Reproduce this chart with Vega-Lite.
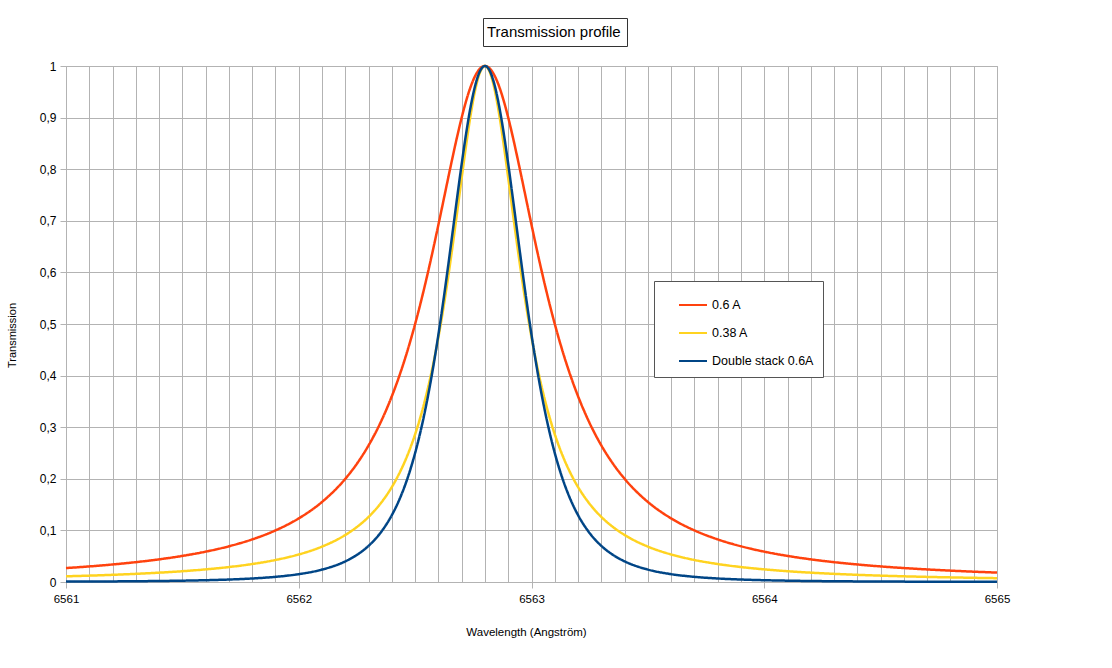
{
  "$schema": "https://vega.github.io/schema/vega-lite/v6.json",
  "autosize": "none",
  "width": 931,
  "height": 516,
  "padding": {"left": 66, "top": 66, "right": 115, "bottom": 86},
  "background": "white",
  "config": {
    "font": "Liberation Sans",
    "view": {"stroke": "#b3b3b3", "strokeWidth": 1}
  },
  "data": {
    "values": [
      {"w": 6561.0, "s1": 0.02703, "s2": 0.01102, "s3": 0.00073},
      {"w": 6561.1, "s1": 0.03020, "s2": 0.01234, "s3": 0.00091},
      {"w": 6561.2, "s1": 0.03396, "s2": 0.01391, "s3": 0.00115},
      {"w": 6561.3, "s1": 0.03846, "s2": 0.01579, "s3": 0.00148},
      {"w": 6561.4, "s1": 0.04390, "s2": 0.01809, "s3": 0.00193},
      {"w": 6561.5, "s1": 0.05056, "s2": 0.02091, "s3": 0.00256},
      {"w": 6561.6, "s1": 0.05882, "s2": 0.02446, "s3": 0.00346},
      {"w": 6561.7, "s1": 0.06923, "s2": 0.02897, "s3": 0.00479},
      {"w": 6561.8, "s1": 0.08257, "s2": 0.03484, "s3": 0.00682},
      {"w": 6561.9, "s1": 0.10000, "s2": 0.04267, "s3": 0.01000},
      {"w": 6562.0, "s1": 0.12329, "s2": 0.05339, "s3": 0.01520},
      {"w": 6562.1, "s1": 0.15517, "s2": 0.06862, "s3": 0.02408},
      {"w": 6562.2, "s1": 0.20000, "s2": 0.09114, "s3": 0.04000},
      {"w": 6562.25, "s1": 0.22930, "s2": 0.10662, "s3": 0.05258},
      {"w": 6562.3, "s1": 0.26471, "s2": 0.12618, "s3": 0.07007},
      {"w": 6562.35, "s1": 0.30769, "s2": 0.15130, "s3": 0.09467},
      {"w": 6562.4, "s1": 0.36000, "s2": 0.18409, "s3": 0.12960},
      {"w": 6562.42, "s1": 0.38396, "s2": 0.20000, "s3": 0.14742},
      {"w": 6562.44, "s1": 0.40984, "s2": 0.21786, "s3": 0.16797},
      {"w": 6562.46, "s1": 0.43774, "s2": 0.23797, "s3": 0.19162},
      {"w": 6562.48, "s1": 0.46778, "s2": 0.26065, "s3": 0.21882},
      {"w": 6562.5, "s1": 0.50000, "s2": 0.28628, "s3": 0.25000},
      {"w": 6562.52, "s1": 0.53444, "s2": 0.31528, "s3": 0.28563},
      {"w": 6562.54, "s1": 0.57107, "s2": 0.34812, "s3": 0.32612},
      {"w": 6562.56, "s1": 0.60976, "s2": 0.38527, "s3": 0.37180},
      {"w": 6562.58, "s1": 0.65029, "s2": 0.42722, "s3": 0.42288},
      {"w": 6562.6, "s1": 0.69231, "s2": 0.47438, "s3": 0.47929},
      {"w": 6562.62, "s1": 0.73529, "s2": 0.52701, "s3": 0.54066},
      {"w": 6562.64, "s1": 0.77855, "s2": 0.58509, "s3": 0.60614},
      {"w": 6562.66, "s1": 0.82117, "s2": 0.64811, "s3": 0.67432},
      {"w": 6562.68, "s1": 0.86207, "s2": 0.71485, "s3": 0.74316},
      {"w": 6562.7, "s1": 0.90000, "s2": 0.78308, "s3": 0.81000},
      {"w": 6562.72, "s1": 0.93361, "s2": 0.84941, "s3": 0.87163},
      {"w": 6562.74, "s1": 0.96154, "s2": 0.90932, "s3": 0.92456},
      {"w": 6562.76, "s1": 0.98253, "s2": 0.95756, "s3": 0.96537},
      {"w": 6562.78, "s1": 0.99558, "s2": 0.98904, "s3": 0.99118},
      {"w": 6562.8, "s1": 1.0, "s2": 1.0, "s3": 1.0},
      {"w": 6562.82, "s1": 0.99558, "s2": 0.98904, "s3": 0.99118},
      {"w": 6562.84, "s1": 0.98253, "s2": 0.95756, "s3": 0.96537},
      {"w": 6562.86, "s1": 0.96154, "s2": 0.90932, "s3": 0.92456},
      {"w": 6562.88, "s1": 0.93361, "s2": 0.84941, "s3": 0.87163},
      {"w": 6562.9, "s1": 0.90000, "s2": 0.78308, "s3": 0.81000},
      {"w": 6562.92, "s1": 0.86207, "s2": 0.71485, "s3": 0.74316},
      {"w": 6562.94, "s1": 0.82117, "s2": 0.64811, "s3": 0.67432},
      {"w": 6562.96, "s1": 0.77855, "s2": 0.58509, "s3": 0.60614},
      {"w": 6562.98, "s1": 0.73529, "s2": 0.52701, "s3": 0.54066},
      {"w": 6563.0, "s1": 0.69231, "s2": 0.47438, "s3": 0.47929},
      {"w": 6563.02, "s1": 0.65029, "s2": 0.42722, "s3": 0.42288},
      {"w": 6563.04, "s1": 0.60976, "s2": 0.38527, "s3": 0.37180},
      {"w": 6563.06, "s1": 0.57107, "s2": 0.34812, "s3": 0.32612},
      {"w": 6563.08, "s1": 0.53444, "s2": 0.31528, "s3": 0.28563},
      {"w": 6563.1, "s1": 0.50000, "s2": 0.28628, "s3": 0.25000},
      {"w": 6563.12, "s1": 0.46778, "s2": 0.26065, "s3": 0.21882},
      {"w": 6563.14, "s1": 0.43774, "s2": 0.23797, "s3": 0.19162},
      {"w": 6563.16, "s1": 0.40984, "s2": 0.21786, "s3": 0.16797},
      {"w": 6563.18, "s1": 0.38396, "s2": 0.20000, "s3": 0.14742},
      {"w": 6563.2, "s1": 0.36000, "s2": 0.18409, "s3": 0.12960},
      {"w": 6563.25, "s1": 0.30769, "s2": 0.15130, "s3": 0.09467},
      {"w": 6563.3, "s1": 0.26471, "s2": 0.12618, "s3": 0.07007},
      {"w": 6563.35, "s1": 0.22930, "s2": 0.10662, "s3": 0.05258},
      {"w": 6563.4, "s1": 0.20000, "s2": 0.09114, "s3": 0.04000},
      {"w": 6563.5, "s1": 0.15517, "s2": 0.06862, "s3": 0.02408},
      {"w": 6563.6, "s1": 0.12329, "s2": 0.05339, "s3": 0.01520},
      {"w": 6563.7, "s1": 0.10000, "s2": 0.04267, "s3": 0.01000},
      {"w": 6563.8, "s1": 0.08257, "s2": 0.03484, "s3": 0.00682},
      {"w": 6563.9, "s1": 0.06923, "s2": 0.02897, "s3": 0.00479},
      {"w": 6564.0, "s1": 0.05882, "s2": 0.02446, "s3": 0.00346},
      {"w": 6564.1, "s1": 0.05056, "s2": 0.02091, "s3": 0.00256},
      {"w": 6564.2, "s1": 0.04390, "s2": 0.01809, "s3": 0.00193},
      {"w": 6564.3, "s1": 0.03846, "s2": 0.01579, "s3": 0.00148},
      {"w": 6564.4, "s1": 0.03396, "s2": 0.01391, "s3": 0.00115},
      {"w": 6564.5, "s1": 0.03020, "s2": 0.01234, "s3": 0.00091},
      {"w": 6564.6, "s1": 0.02703, "s2": 0.01102, "s3": 0.00073},
      {"w": 6564.7, "s1": 0.02432, "s2": 0.00990, "s3": 0.00059},
      {"w": 6564.8, "s1": 0.02200, "s2": 0.00894, "s3": 0.00048},
      {"w": 6564.9, "s1": 0.02000, "s2": 0.00812, "s3": 0.00040},
      {"w": 6565.0, "s1": 0.01826, "s2": 0.00740, "s3": 0.00033}
    ]
  },
  "transform": [{"fold": ["s1", "s2", "s3"], "as": ["series", "t"]}],
  "mark": {"type": "line", "strokeWidth": 2.5, "interpolate": "monotone", "clip": false},
  "encoding": {
    "x": {
      "field": "w",
      "type": "quantitative",
      "scale": {"domain": [6561, 6565], "zero": false, "nice": false},
      "axis": {
        "title": "Wavelength (Angström)",
        "values": [6561, 6561.1, 6561.2, 6561.3, 6561.4, 6561.5, 6561.6, 6561.7, 6561.8, 6561.9, 6562, 6562.1, 6562.2, 6562.3, 6562.4, 6562.5, 6562.6, 6562.7, 6562.8, 6562.9, 6563, 6563.1, 6563.2, 6563.3, 6563.4, 6563.5, 6563.6, 6563.7, 6563.8, 6563.9, 6564, 6564.1, 6564.2, 6564.3, 6564.4, 6564.5, 6564.6, 6564.7, 6564.8, 6564.9, 6565],
        "labelExpr": "abs(datum.value - round(datum.value)) < 0.001 ? format(datum.value, 'd') : ''",
        "labelOverlap": false,
        "labelFlush": false,
        "labelFontSize": 11.5,
        "labelColor": "#000",
        "labelPadding": 5,
        "domain": false,
        "grid": true,
        "gridColor": "#b3b3b3",
        "gridWidth": 1,
        "tickSize": 6,
        "tickColor": {"condition": {"test": "abs(datum.value - round(datum.value)) < 0.001", "value": "#b3b3b3"}, "value": "transparent"},
        "titleFontSize": 11.5,
        "titleFontWeight": "normal",
        "titleColor": "#000",
        "titleX": 460,
        "titleY": 50,
        "titleBaseline": "middle",
        "titleAlign": "center"
      }
    },
    "y": {
      "field": "t",
      "type": "quantitative",
      "scale": {"domain": [0, 1], "nice": false},
      "axis": {
        "title": "Transmission",
        "values": [0, 0.1, 0.2, 0.3, 0.4, 0.5, 0.6, 0.7, 0.8, 0.9, 1],
        "labelExpr": "replace(format(datum.value, '~g'), '.', ',')",
        "labelFontSize": 12,
        "labelColor": "#000",
        "labelPadding": 4,
        "domain": false,
        "grid": true,
        "gridColor": "#b3b3b3",
        "gridWidth": 1,
        "tickSize": 6,
        "tickColor": "#b3b3b3",
        "titleFontSize": 11,
        "titleFontWeight": "normal",
        "titleColor": "#000",
        "titleX": -54,
        "titleY": 269,
        "titleAngle": 270,
        "titleBaseline": "middle",
        "titleAlign": "center"
      }
    },
    "color": {
      "field": "series",
      "type": "nominal",
      "scale": {"domain": ["s1", "s2", "s3"], "range": ["#ff420e", "#ffd320", "#004586"]},
      "legend": {
        "title": null,
        "orient": "none",
        "legendX": 588,
        "legendY": 215,
        "labelExpr": "datum.label == 's1' ? '0.6 A' : datum.label == 's2' ? '0.38 A' : 'Double stack 0.6A\u00a0\u00a0\u00a0\u00a0'",
        "labelFontSize": 12.5,
        "labelColor": "#000",
        "labelOffset": 4,
        "symbolType": "stroke",
        "symbolSize": 784,
        "symbolStrokeWidth": 2,
        "symbolOffset": 15,
        "padding": 9,
        "rowPadding": 6,
        "strokeColor": "#555",
        "fillColor": "white"
      }
    },
    "strokeDash": {
      "datum": "Transmission profile",
      "scale": {"range": [[1, 0]]},
      "legend": {
        "title": null,
        "orient": "none",
        "legendX": 417,
        "legendY": -48,
        "labelFontSize": 15,
        "labelColor": "#000",
        "labelOffset": -17,
        "symbolSize": 0.0001,
        "symbolStrokeWidth": 0,
        "symbolOpacity": 0,
        "padding": 6,
        "strokeColor": "#333",
        "fillColor": "white"
      }
    }
  }
}
